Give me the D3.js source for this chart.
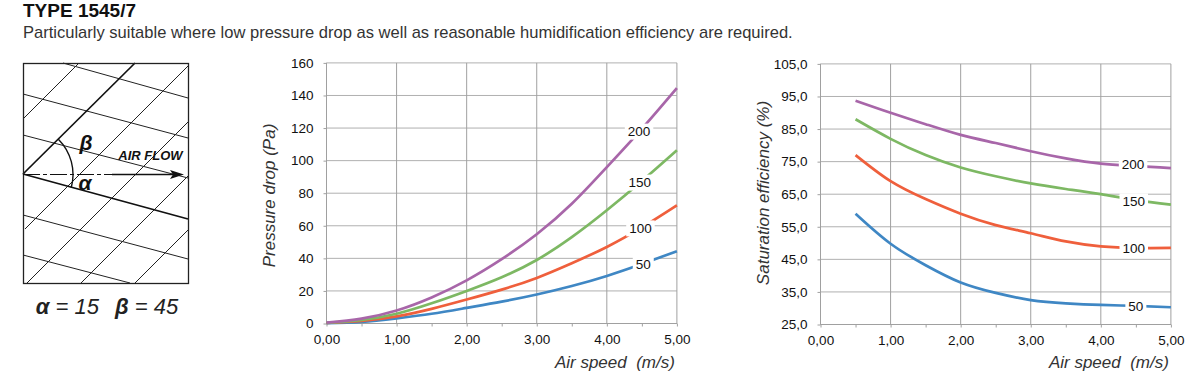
<!DOCTYPE html>
<html>
<head>
<meta charset="utf-8">
<script src="https://cdn.jsdelivr.net/npm/d3@7"></script>
<style>
  body { margin: 0; background: #fff; }
  svg { display: block; }
  text { font-family: "Liberation Sans", sans-serif; fill: #1a1a1a; }
  .tick text { font-size: 13.5px; fill: #111; }
  .axis-title { font-size: 17px; font-style: italic; fill: #333; }
  .curve-label { font-size: 13.5px; fill: #111; }
</style>
</head>
<body>
<div id="page"></div>
<script>
const speeds = [0, 0.5, 1, 1.5, 2, 2.5, 3, 3.5, 4, 4.5, 5];
const effSpeeds = [0.5, 1, 1.5, 2, 2.5, 3, 3.5, 4, 4.5, 5];
const seriesNames = ['50', '100', '150', '200'];
const seriesColors = ['#3f87c4', '#ef5f3c', '#7db863', '#a866a9'];

const drop50 = [0.2, 1, 3.2, 6, 9.6, 13.4, 17.8, 23, 29.2, 36.5, 44.4];
const drop100 = [0.3, 1.6, 4.4, 9, 14.7, 20.8, 28, 37, 47, 59, 72.6];
const drop150 = [0.4, 2.2, 6, 12.4, 20, 28.4, 39, 53, 69.5, 87.5, 106.4];
const drop200 = [0.5, 3, 8, 16, 26.5, 39.5, 54.8, 73.5, 96, 119.5, 144.5];

const eff50 = [59, 49.8, 43.2, 37.9, 34.7, 32.5, 31.5, 31, 30.7, 30.3];
const eff100 = [77, 69, 63.5, 59, 55.5, 53, 50.5, 49, 48.5, 48.5];
const eff150 = [88, 82, 77, 73.2, 70.5, 68.3, 66.6, 65, 63.2, 61.8];
const eff200 = [93.7, 90, 86.5, 83.2, 80.7, 78.2, 76, 74.4, 73.7, 73];

// where the curve names sit, in data units
const dropLabelX = [4.52, 4.48, 4.47, 4.46];
const dropLabelY = [36.2, 58.4, 86.5, 117.8];
const effLabelX = [4.5, 4.47, 4.47, 4.46];
const effLabelY = [30.5, 48.5, 62.8, 74.2];

const xTicks = [0, 1, 2, 3, 4, 5];
const xMinorTicks = [0, 0.5, 1, 1.5, 2, 2.5, 3, 3.5, 4, 4.5, 5];
const dropTicks = [0, 20, 40, 60, 80, 100, 120, 140, 160];
const effTicks = [25, 35, 45, 55, 65, 75, 85, 95, 105];

// schematic of the corrugation, endpoints in pixels of the drawing
const alphaLines = [[63, 63, 188, 98], [23, 94, 188, 138], [23, 135, 188, 178], [23, 215, 188, 259], [23, 255, 130, 283]];
const betaLines = [[24, 118, 79, 63], [25, 229, 188, 66], [27, 283, 188, 122], [81, 283, 188, 176], [135, 283, 188, 230]];
const heavyLines = [[23, 174, 188, 219], [23, 174, 135, 63]];

const svg = d3.select('#page').append('svg')
  .attr('width', 1199)
  .attr('height', 383);

svg.append('text')
  .attr('x', 23).attr('y', 17)
  .style('font-size', '19px').style('font-weight', 'bold').style('fill', '#111')
  .text('TYPE 1545/7');

svg.append('text')
  .attr('x', 23).attr('y', 38)
  .style('font-size', '16.55px').style('fill', '#333')
  .text('Particularly suitable where low pressure drop as well as reasonable humidification efficiency are required.');

function drawDiagram() {
  const g = svg.append('g');
  const seg = d => `M${d[0]},${d[1]}L${d[2]},${d[3]}`;

  g.selectAll('.thin').data(alphaLines.concat(betaLines)).join('path')
    .attr('d', seg).attr('stroke', '#222').attr('stroke-width', 1).attr('fill', 'none');
  g.selectAll('.heavy').data(heavyLines).join('path')
    .attr('class', 'heavy')
    .attr('d', seg).attr('stroke', '#111').attr('stroke-width', 1.7).attr('fill', 'none');

  g.append('rect')
    .attr('x', 23.5).attr('y', 63.5).attr('width', 165).attr('height', 220)
    .attr('fill', 'none').attr('stroke', '#222').attr('stroke-width', 1.3);

  g.append('path').attr('d', 'M23,174.5L112,174.5')
    .attr('stroke', '#111').attr('stroke-width', 1).attr('stroke-dasharray', '17,3,4,3');
  g.append('path').attr('d', 'M112,174.5L176,174.5')
    .attr('stroke', '#111').attr('stroke-width', 1.7);
  g.append('path').attr('d', 'M170,170L184,174.5L170,179L173,174.5Z').attr('fill', '#111');

  const arc = d3.arc().innerRadius(50).outerRadius(50);
  g.append('path')
    .attr('transform', 'translate(23,174.5)')
    .attr('d', arc({ startAngle: Math.PI * 0.25, endAngle: Math.PI * 0.585 }))
    .attr('fill', 'none').attr('stroke', '#111').attr('stroke-width', 1.4);

  const symbol = (x, y, t, size) => g.append('text')
    .attr('x', x).attr('y', y).attr('text-anchor', 'middle')
    .style('font-size', size).style('font-weight', 'bold').style('font-style', 'italic').style('fill', '#111')
    .text(t);
  symbol(86, 150, 'β', '21px');
  symbol(85, 190, 'α', '21px');
  symbol(150.5, 160, 'AIR FLOW', '13px');

  const caption = g.append('text')
    .attr('x', 107).attr('y', 314).attr('text-anchor', 'middle')
    .style('font-size', '22px').style('font-style', 'italic').style('fill', '#222');
  caption.append('tspan').style('font-weight', 'bold').text('α');
  caption.append('tspan').text(' = 15');
  caption.append('tspan').attr('dx', 16).style('font-weight', 'bold').text('β');
  caption.append('tspan').text(' = 45');
}

function drawChart(cfg) {
  const x = d3.scaleLinear().domain([0, 5]).range([cfg.left, cfg.left + 350.4]);
  const y = d3.scaleLinear().domain(cfg.yDomain).range([cfg.bottom, cfg.bottom - 260.6]);
  const g = svg.append('g');

  // grid
  g.selectAll('.hgrid').data(cfg.yTicks).join('line')
    .attr('class', 'hgrid')
    .attr('x1', x(0)).attr('x2', x(5))
    .attr('y1', d => y(d)).attr('y2', d => y(d))
    .attr('stroke', '#b0b0b0').attr('stroke-width', 1);
  g.selectAll('.vgrid').data(xTicks).join('line')
    .attr('class', 'vgrid')
    .attr('x1', d => x(d)).attr('x2', d => x(d))
    .attr('y1', y.range()[1]).attr('y2', y.range()[0])
    .attr('stroke', '#a0a0a0').attr('stroke-width', 1);

  // axes
  const xAxis = d3.axisBottom(x)
    .tickValues(xMinorTicks)
    .tickSize(3)
    .tickPadding(8)
    .tickFormat(d => Number.isInteger(d) ? d.toFixed(2).replace('.', ',') : '');
  const yAxis = d3.axisLeft(y)
    .tickValues(cfg.yTicks)
    .tickSize(3)
    .tickPadding(10)
    .tickFormat(cfg.yFormat);

  g.append('g').attr('transform', `translate(0,${cfg.bottom})`).call(xAxis)
    .call(a => a.select('.domain').attr('stroke', '#a0a0a0').attr('d', `M${x(0)},0H${x(5)}`))
    .call(a => a.selectAll('line').attr('stroke', '#a0a0a0'));
  g.append('g').attr('transform', `translate(${cfg.left},0)`).call(yAxis)
    .call(a => a.select('.domain').attr('stroke', '#a0a0a0').attr('d', `M0,${y.range()[0]}V${y.range()[1]}`))
    .call(a => a.selectAll('line').attr('stroke', '#a0a0a0'));

  // curves
  const line = d3.line()
    .x((d, i) => x(cfg.xs[i]))
    .y(d => y(d))
    .curve(d3.curveNatural);
  g.selectAll('.curve').data(cfg.series).join('path')
    .attr('class', 'curve')
    .attr('d', line)
    .attr('fill', 'none')
    .attr('stroke', (d, i) => seriesColors[i])
    .attr('stroke-width', 2.7);

  // curve names with white patch behind
  seriesNames.forEach((name, i) => {
    const w = name.length * 7.5 + 6;
    g.append('rect')
      .attr('x', x(cfg.labelX[i]) - w / 2).attr('y', y(cfg.labelY[i]) - 8)
      .attr('width', w).attr('height', 16)
      .attr('fill', '#fff');
    g.append('text')
      .attr('class', 'curve-label')
      .attr('x', x(cfg.labelX[i])).attr('y', y(cfg.labelY[i]))
      .attr('dy', '.35em').attr('text-anchor', 'middle')
      .text(name);
  });

  // titles
  g.append('text').attr('class', 'axis-title')
    .attr('x', x(5) - 2).attr('y', 368).attr('text-anchor', 'end')
    .attr('xml:space', 'preserve')
    .text('Air speed  (m/s)');
  g.append('text').attr('class', 'axis-title')
    .attr('transform', `translate(${cfg.left - 52},${cfg.titleY}) rotate(-90)`)
    .attr('text-anchor', 'middle')
    .text(cfg.yTitle);
}

drawDiagram();

drawChart({
  left: 326.5, bottom: 323.5,
  yDomain: [0, 160], yTicks: dropTicks, yFormat: d3.format('d'),
  xs: speeds,
  series: [drop50, drop100, drop150, drop200],
  labelX: dropLabelX, labelY: dropLabelY,
  yTitle: 'Pressure drop (Pa)', titleY: 195.5
});

drawChart({
  left: 820.5, bottom: 324.5,
  yDomain: [25, 105], yTicks: effTicks, yFormat: d => d.toFixed(1).replace('.', ','),
  xs: effSpeeds,
  series: [eff50, eff100, eff150, eff200],
  labelX: effLabelX, labelY: effLabelY,
  yTitle: 'Saturation efficiency (%)', titleY: 193
});
</script>
</body>
</html>
